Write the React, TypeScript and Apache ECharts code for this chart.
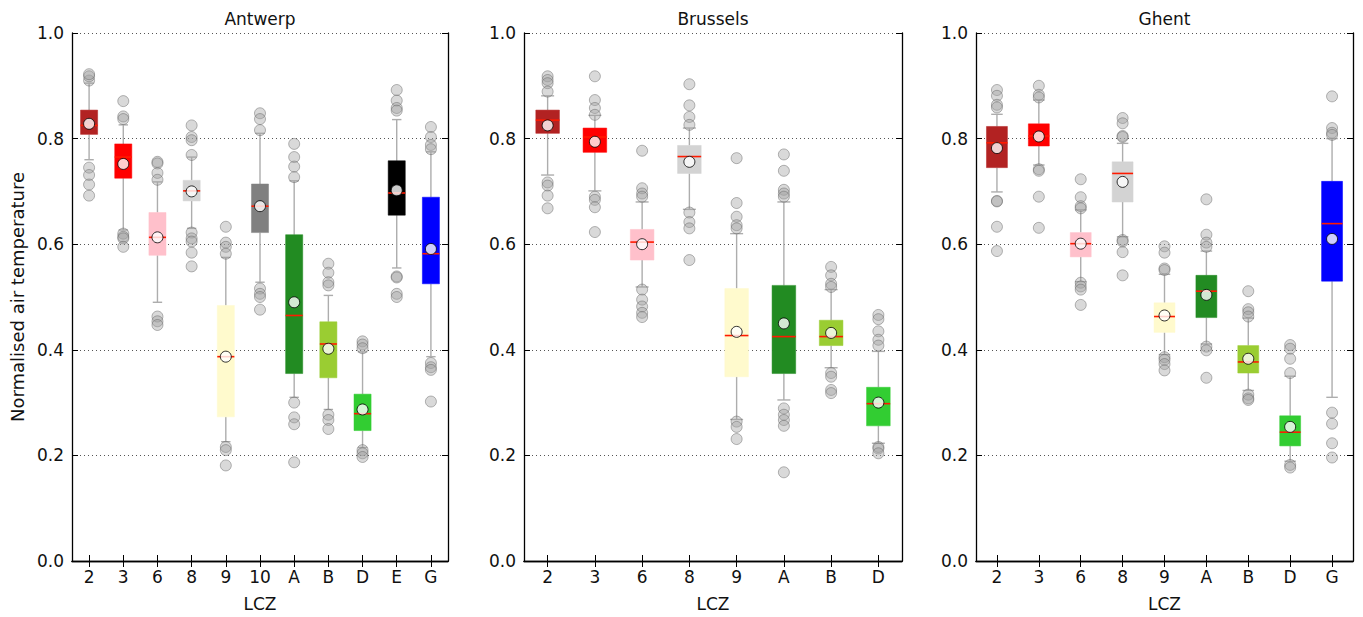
import React, { useEffect, useRef } from "react";
import * as echarts from "echarts";

// ---------- data ----------
const antwerpCats = ["2", "3", "6", "8", "9", "10", "A", "B", "D", "E", "G"];
// [lower whisker, Q1, median, Q3, upper whisker]
const antwerpBoxes = [
  [0.76, 0.808, 0.825, 0.854, 0.905],
  [0.627, 0.725, 0.765, 0.79, 0.826],
  [0.49, 0.579, 0.613, 0.66, 0.718],
  [0.63, 0.682, 0.701, 0.721, 0.765],
  [0.226, 0.273, 0.387, 0.484, 0.575],
  [0.528, 0.622, 0.672, 0.714, 0.81],
  [0.31, 0.355, 0.465, 0.618, 0.72],
  [0.287, 0.347, 0.411, 0.453, 0.503],
  [0.215, 0.247, 0.279, 0.316, 0.396],
  [0.555, 0.655, 0.697, 0.758, 0.836],
  [0.387, 0.525, 0.582, 0.689, 0.775],
];
const antwerpMeans = [0.828, 0.752, 0.613, 0.7, 0.387, 0.672, 0.49, 0.402, 0.287, 0.702, 0.591];
const antwerpOutliers = [
  [0.91, 0.918, 0.922, 0.745, 0.731, 0.713, 0.692],
  [0.871, 0.842, 0.837, 0.62, 0.614, 0.611, 0.595],
  [0.756, 0.753, 0.735, 0.722, 0.463, 0.454, 0.447],
  [0.825, 0.803, 0.797, 0.769, 0.622, 0.611, 0.605, 0.584, 0.558],
  [0.633, 0.603, 0.595, 0.582, 0.216, 0.21, 0.181],
  [0.848, 0.837, 0.816, 0.516, 0.506, 0.5, 0.476],
  [0.79, 0.765, 0.747, 0.727, 0.3, 0.272, 0.259, 0.187],
  [0.563, 0.546, 0.528, 0.522, 0.277, 0.267, 0.25],
  [0.416, 0.41, 0.403, 0.21, 0.204, 0.197],
  [0.892, 0.872, 0.858, 0.853, 0.539, 0.537, 0.506, 0.5],
  [0.822, 0.803, 0.788, 0.78, 0.375, 0.367, 0.362, 0.302],
];

const brusselsCats = ["2", "3", "6", "8", "9", "A", "B", "D"];
const brusselsBoxes = [
  [0.731, 0.81, 0.835, 0.854, 0.881],
  [0.701, 0.774, 0.803, 0.82, 0.844],
  [0.519, 0.57, 0.604, 0.628, 0.68],
  [0.666, 0.734, 0.766, 0.787, 0.82],
  [0.268, 0.349, 0.427, 0.516, 0.62],
  [0.305, 0.355, 0.425, 0.522, 0.68],
  [0.366, 0.408, 0.425, 0.456, 0.514],
  [0.223, 0.256, 0.298, 0.329, 0.397],
];
const brusselsMeans = [0.825, 0.794, 0.6, 0.756, 0.434, 0.45, 0.432, 0.3];
const brusselsOutliers = [
  [0.918, 0.911, 0.905, 0.889, 0.717, 0.711, 0.692, 0.668],
  [0.918, 0.873, 0.858, 0.845, 0.69, 0.684, 0.67, 0.623],
  [0.777, 0.706, 0.696, 0.69, 0.514, 0.495, 0.482, 0.47, 0.462],
  [0.903, 0.863, 0.841, 0.826, 0.66, 0.642, 0.63, 0.57],
  [0.763, 0.678, 0.652, 0.636, 0.63, 0.264, 0.254, 0.231],
  [0.77, 0.739, 0.703, 0.696, 0.69, 0.289, 0.277, 0.267, 0.256, 0.168],
  [0.557, 0.541, 0.525, 0.519, 0.356, 0.349, 0.324, 0.318],
  [0.466, 0.458, 0.435, 0.419, 0.408, 0.216, 0.213, 0.204],
];

const ghentCats = ["2", "3", "6", "8", "9", "A", "B", "D", "G"];
const ghentBoxes = [
  [0.699, 0.745, 0.792, 0.823, 0.846],
  [0.75, 0.786, 0.805, 0.828, 0.873],
  [0.529, 0.576, 0.601, 0.622, 0.665],
  [0.614, 0.68, 0.734, 0.756, 0.791],
  [0.391, 0.433, 0.463, 0.489, 0.543],
  [0.411, 0.461, 0.511, 0.541, 0.587],
  [0.323, 0.356, 0.377, 0.408, 0.46],
  [0.189, 0.218, 0.244, 0.275, 0.35],
  [0.31, 0.53, 0.639, 0.719, 0.8],
];
const ghentMeans = [0.782, 0.804, 0.601, 0.718, 0.465, 0.504, 0.383, 0.254, 0.61];
const ghentOutliers = [
  [0.892, 0.881, 0.864, 0.859, 0.682, 0.681, 0.633, 0.587],
  [0.9, 0.883, 0.878, 0.742, 0.739, 0.69, 0.631],
  [0.723, 0.689, 0.672, 0.668, 0.527, 0.52, 0.514, 0.485],
  [0.839, 0.829, 0.805, 0.803, 0.608, 0.605, 0.585, 0.541],
  [0.596, 0.584, 0.554, 0.551, 0.386, 0.381, 0.373, 0.361],
  [0.685, 0.618, 0.603, 0.595, 0.406, 0.399, 0.347],
  [0.511, 0.477, 0.471, 0.463, 0.315, 0.308, 0.305],
  [0.409, 0.402, 0.383, 0.356, 0.182, 0.177],
  [0.88, 0.82, 0.811, 0.807, 0.281, 0.26, 0.223, 0.196],
];

const panelTitles = ["Antwerp", "Brussels", "Ghent"];
const yTicks = [0, 0.2, 0.4, 0.6, 0.8, 1.0];

// ---------- styles ----------
const lczColors: Record<string, string> = {
  "2": "#B22222",
  "3": "#FF0000",
  "6": "#FFC0CB",
  "8": "#D3D3D3",
  "9": "#FFFACD",
  "10": "#808080",
  A: "#228B22",
  B: "#9ACD32",
  D: "#32CD32",
  E: "#000000",
  G: "#0000FF",
};

const FONT = "DejaVu Sans";
const grids = [
  { left: 72, top: 33, width: 376, height: 528 },
  { left: 524, top: 33, width: 378, height: 528 },
  { left: 976, top: 33, width: 377, height: 528 },
];

export default function App() {
  const ref = useRef<HTMLDivElement>(null);
  useEffect(() => {
    if (!ref.current) return;
    const chart = echarts.init(ref.current, undefined, { renderer: "svg" });
    const panels = [
      { cats: antwerpCats, boxes: antwerpBoxes, means: antwerpMeans, outliers: antwerpOutliers },
      { cats: brusselsCats, boxes: brusselsBoxes, means: brusselsMeans, outliers: brusselsOutliers },
      { cats: ghentCats, boxes: ghentBoxes, means: ghentMeans, outliers: ghentOutliers },
    ];
    const xAxis: any[] = [];
    const yAxis: any[] = [];
    const series: any[] = [];
    const graphic: any[] = [];
    panels.forEach((p, gi) => {
      const tickCommon = { show: true, inside: true, length: 6, lineStyle: { color: "#000", width: 1 } };
      xAxis.push({
        type: "category",
        gridIndex: gi,
        data: p.cats,
        position: "bottom",
        boundaryGap: true,
        axisLine: { show: true, lineStyle: { color: "#000", width: 1.3 } },
        axisTick: { ...tickCommon, alignWithLabel: true },
        axisLabel: { color: "#111", fontSize: 17, fontFamily: FONT, margin: 7 },
        name: "LCZ",
        nameLocation: "middle",
        nameGap: 34,
        nameTextStyle: { color: "#111", fontSize: 17, fontFamily: FONT },
        splitLine: { show: false },
      });
      xAxis.push({
        type: "category",
        gridIndex: gi,
        data: p.cats,
        position: "top",
        boundaryGap: true,
        axisLine: { show: true, lineStyle: { color: "#000", width: 1.3 } },
        axisTick: { ...tickCommon, alignWithLabel: true },
        axisLabel: { show: false },
        splitLine: { show: false },
      });
      yAxis.push({
        type: "value",
        gridIndex: gi,
        min: 0,
        max: 1,
        interval: 0.2,
        position: "left",
        axisLine: { show: true, lineStyle: { color: "#000", width: 1.3 } },
        axisTick: tickCommon,
        axisLabel: {
          color: "#111",
          fontSize: 17,
          fontFamily: FONT,
          margin: 8,
          formatter: (v: number) => (yTicks.some((t) => Math.abs(t - v) < 1e-9) ? v.toFixed(1) : ""),
        },
        splitLine: { show: true, lineStyle: { color: "#555", type: [1, 3], width: 1 } },
        ...(gi === 0
          ? {
              name: "Normalised air temperature",
              nameLocation: "middle",
              nameGap: 46,
              nameTextStyle: { color: "#111", fontSize: 18, fontFamily: FONT },
            }
          : {}),
      });
      yAxis.push({
        type: "value",
        gridIndex: gi,
        min: 0,
        max: 1,
        interval: 0.2,
        position: "right",
        axisLine: { show: true, lineStyle: { color: "#000", width: 1.3 } },
        axisTick: tickCommon,
        axisLabel: { show: false },
        splitLine: { show: false },
      });
      const xi = gi * 2;
      const yi = gi * 2;
      const cats = p.cats;
      series.push({
        type: "custom",
        xAxisIndex: xi,
        yAxisIndex: yi,
        z: 2,
        data: p.boxes.map((b, i) => [i, ...b]),
        encode: { x: 0, y: [1, 2, 3, 4, 5] },
        renderItem: (params: any, api: any) => {
          const idx = api.value(0);
          const lo = api.coord([idx, api.value(1)]);
          const q1 = api.coord([idx, api.value(2)]);
          const md = api.coord([idx, api.value(3)]);
          const q3 = api.coord([idx, api.value(4)]);
          const hi = api.coord([idx, api.value(5)]);
          const band = api.size([1, 0])[0];
          const bw = band * 0.5;
          const cw = bw * 0.55;
          const cx = lo[0];
          const color = lczColors[cats[params.dataIndex]];
          const ws = { stroke: "#adadad", lineWidth: 1.4 };
          return {
            type: "group",
            children: [
              { type: "line", shape: { x1: cx, y1: hi[1], x2: cx, y2: q3[1] }, style: ws },
              { type: "line", shape: { x1: cx, y1: q1[1], x2: cx, y2: lo[1] }, style: ws },
              { type: "line", shape: { x1: cx - cw / 2, y1: hi[1], x2: cx + cw / 2, y2: hi[1] }, style: ws },
              { type: "line", shape: { x1: cx - cw / 2, y1: lo[1], x2: cx + cw / 2, y2: lo[1] }, style: ws },
              {
                type: "rect",
                shape: { x: cx - bw / 2, y: q3[1], width: bw, height: q1[1] - q3[1] },
                style: { fill: color, stroke: color, lineWidth: 0.5 },
              },
              {
                type: "line",
                shape: { x1: cx - bw / 2, y1: md[1], x2: cx + bw / 2, y2: md[1] },
                style: { stroke: "#ff1a00", lineWidth: 1.6 },
              },
            ],
          };
        },
        silent: true,
      });
      const outPts: number[][] = [];
      p.outliers.forEach((arr, i) => arr.forEach((v) => outPts.push([i, v])));
      series.push({
        type: "scatter",
        xAxisIndex: xi,
        yAxisIndex: yi,
        z: 3,
        symbol: "circle",
        symbolSize: 11,
        data: outPts,
        itemStyle: { color: "rgba(160,160,160,0.5)", borderColor: "rgba(90,90,90,0.55)", borderWidth: 1 },
        silent: true,
      });
      series.push({
        type: "scatter",
        xAxisIndex: xi,
        yAxisIndex: yi,
        z: 4,
        symbol: "circle",
        symbolSize: 11,
        data: p.means.map((m, i) => [i, m]),
        itemStyle: { color: "#ffffff", borderColor: "#000", borderWidth: 1 },
        silent: true,
      });
      const g = grids[gi];
      graphic.push({
        type: "text",
        x: g.left + g.width / 2,
        y: 19,
        style: {
          text: panelTitles[gi],
          fill: "#111",
          font: `17px "${FONT}"`,
          textAlign: "center",
          textVerticalAlign: "middle",
        },
      });
    });
    chart.setOption({
      animation: false,
      backgroundColor: "#fff",
      grid: grids.map((g) => ({ ...g, containLabel: false })),
      xAxis,
      yAxis,
      series,
      graphic,
    });
    return () => chart.dispose();
  }, []);
  return (
    <div
      ref={ref}
      style={{ position: "fixed", left: 0, top: 0, width: "1363px", height: "617px", background: "#fff" }}
    />
  );
}
